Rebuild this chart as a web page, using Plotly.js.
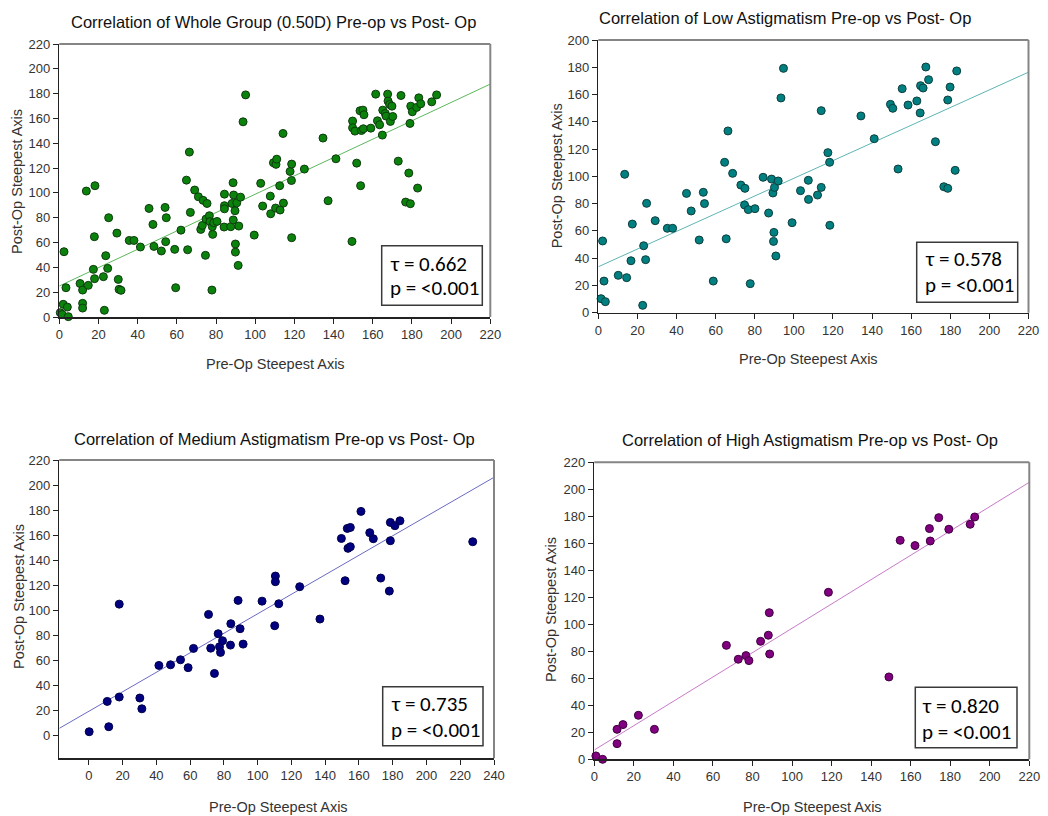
<!DOCTYPE html>
<html>
<head>
<meta charset="utf-8">
<script src="https://cdn.plot.ly/plotly-3.0.1.min.js"></script>
<style>
  html, body { margin: 0; padding: 0; background: #fff; }
  #chart { width: 1048px; height: 816px; }
</style>
</head>
<body>
<div id="chart"></div>
<script>
// ---- Whole group (0.50D): pre-op vs post-op steepest axis (degrees) ----
const wholePre = [
  0.5, 1.5, 2.4, 2, 3.4, 4.1, 4.6, 10.6, 11.9, 11.9,
  11.9, 13.8, 14.8, 17.4, 17.9, 18.2, 18, 22.5, 23, 23.7,
  24.7, 25.2, 29.4, 30.1, 30.5, 31.5, 35.7, 38.1, 41.4, 45.8,
  47.8, 48.3, 52.1, 54, 54.6, 54.3, 58.9, 59.4, 62.1, 64.9,
  65.5, 66.4, 66.9, 69.1, 71, 72.2, 73, 73.4, 74.6, 75.4,
  74.9, 76.6, 76.9, 77.9, 78.3, 78.1, 78.8, 80.5, 84.3, 84.3,
  84.3, 84.1, 87.5, 88.7, 89, 88.2, 89.7, 90.6, 88.8, 89.9,
  89.9, 91.3, 91.6, 92.5, 93.8, 95.1, 99.5, 102.8, 103.8, 107.7,
  107.9, 109.3, 110.6, 111, 110.4, 112.5, 112.7, 114.2, 114.4, 117.8,
  118.5, 118.6, 118.6, 125.1, 134.6, 137.2, 141.2, 149.4, 149.7, 149.7,
  150.9, 151.8, 153.5, 155, 155.5, 154.2, 153.8, 155.2, 159, 161.5,
  162.4, 163.5, 164.9, 165.1, 166.4, 166.8, 167.6, 167.8, 168.6, 169,
  169.8, 170.2, 173, 174.4, 176.8, 178.4, 179.2, 179, 179.4, 180.2,
  182.4, 182.9, 183.5, 184.5, 190.1, 192.6
];
const wholePost = [
  3.5, 2, 52.6, 10.2, 23.6, 8, 0.3, 27, 21.7, 11,
  7.2, 101.5, 25.5, 38.4, 64.7, 105.8, 30.9, 32.5, 5.4, 49.4,
  39.2, 80, 67.6, 30.3, 22.3, 21.5, 61.7, 61.7, 56.4, 87.5,
  74.6, 56.9, 53.2, 88.3, 80, 60.7, 54.5, 23.6, 70, 110.3,
  54.2, 132.9, 84.3, 102.3, 96.9, 70.6, 73.8, 94, 49.7, 91.5,
  78.9, 81.6, 76.8, 21.7, 66.6, 72.8, 76, 77, 99, 89.7,
  87.2, 72.5, 72.8, 108.2, 98.3, 91.5, 85.6, 92, 78.2, 58.8,
  52.3, 41.6, 73.3, 96.6, 157.3, 179, 66, 107.7, 89.4, 97.4,
  83.2, 124.3, 123, 127.2, 87.8, 105.8, 86.2, 147.9, 91.8, 117.3,
  110, 123.2, 63.9, 119.2, 144.2, 93.7, 127.5, 60.9, 157.9, 152.5,
  149.8, 124, 166.2, 166.7, 163, 150.3, 105.8, 151.7, 152.2, 179.6,
  158.1, 154.9, 146.6, 166.7, 164, 161.9, 179.6, 174, 171.3, 157.6,
  169.9, 161.6, 125.6, 178.5, 92.6, 116, 91.3, 156, 169.9, 165.4,
  168.9, 103.9, 176.6, 171.8, 173.4, 179
];
const wholeFitX = [0, 220];
const wholeFitY = [25, 187.7];

// ---- Low astigmatism ----
const lowPre = [
  1.4, 2.2, 2.9, 3.6, 10.2, 13.5, 14.5, 16.7, 17.4, 22.7,
  23.2, 24.2, 24.7, 29.1, 35.3, 38, 45.1, 47.5, 51.6, 53.7,
  54.3, 58.8, 64.6, 65.4, 66.3, 68.7, 72.9, 75, 74.8, 76.7,
  77.7, 80.1, 84.3, 87.1, 88.6, 89.3, 90.1, 89.8, 89.6, 90.8,
  92, 93.4, 94.7, 99.1, 103.4, 107.4, 107.5, 112.1, 114, 114,
  117.4, 118.3, 118.4, 134.3, 141.1, 149.4, 150.6, 153.3, 155.4, 158.4,
  162.9, 164.6, 164.8, 166.1, 167.5, 168.9, 172.4, 176.7, 178.7, 178.7,
  179.9, 182.5, 183.3
];
const lowPost = [
  10.3, 52.6, 23.2, 8.1, 27.4, 101.5, 25.7, 38.1, 65, 5.4,
  49.1, 38.9, 80.2, 67.5, 61.9, 61.9, 87.5, 74.6, 53.3, 88.3,
  80, 23.2, 110.3, 54.2, 133.3, 102.2, 93.6, 91.2, 79, 75.6,
  21.3, 76.3, 99.3, 73.1, 98, 87.8, 91.9, 58.9, 52.3, 41.6,
  96.6, 157.5, 179.2, 66, 89.5, 97.1, 83.1, 86.3, 91.9, 148.2,
  117.4, 110.3, 64.1, 144.3, 127.6, 152.8, 149.9, 105.4, 164.3, 152.3,
  155.3, 146.5, 166.5, 164.8, 180.2, 170.9, 125.4, 92.4, 91.2, 156,
  165.5, 104.4, 177.3
];
const lowFitX = [0, 220];
const lowFitY = [33.7, 176.4];

// ---- Medium astigmatism ----
const medPre = [
  0.2, 10.9, 11.8, 18, 18, 30.2, 31.4, 41.5, 48.4, 54.3,
  58.8, 62, 70.9, 72.2, 74.4, 76.6, 77.4, 78, 79.2, 83.9,
  84.1, 88.4, 89.6, 91.4, 102.6, 110.1, 110.5, 110.5, 112.5, 124.9,
  136.9, 149.6, 151.8, 153.1, 154.9, 153.5, 154.9, 161.2, 166.4, 168.5,
  172.9, 178, 178.6, 178.6, 181.3, 184.3, 227.4
];
const medPost = [
  3.2, 27.4, 7.2, 105, 30.9, 30.1, 21.5, 56.1, 56.6, 60.6,
  54.3, 69.7, 96.8, 69.9, 49.7, 81.4, 71, 66.5, 75.8, 72.3,
  89.4, 108, 85.4, 73.1, 107.4, 87.8, 127.4, 122.9, 105.3, 118.9,
  93.1, 157.4, 123.7, 165.4, 166.2, 149.5, 150.8, 179, 162, 157.2,
  125.8, 115.4, 155.6, 170.2, 167.6, 171.5, 154.8
];
const medFitX = [-17.5, 240];
const medFitY = [5.9, 206.2];

// ---- High astigmatism ----
const highPre = [
  0.8, 4.2, 11.5, 11.5, 14.5, 22.3, 30.4, 66.8, 72.8, 76.7,
  78.2, 84.1, 88, 88.5, 88.7, 118.4, 149, 154.7, 162.2, 169.5,
  169.9, 174.2, 179.3, 190.1, 192.4
];
const highPost = [
  2.5, 0, 22.2, 11.6, 25.7, 32.6, 22.2, 84.4, 74.1, 76.8,
  73.1, 87.4, 91.9, 108.6, 78, 123.7, 61, 162.2, 158.3, 170.9,
  161.7, 179, 170.4, 174.1, 179.5
];
const highFitX = [0, 220];
const highFitY = [6.9, 205.2];

// ---- Labels ----
const panelTitles = [
  'Correlation of Whole Group (0.50D) Pre-op vs Post- Op',
  'Correlation of Low Astigmatism Pre-op vs Post- Op',
  'Correlation of Medium Astigmatism Pre-op vs Post- Op',
  'Correlation of High Astigmatism Pre-op vs Post- Op'
];
const tauValues = ['0.662', '0.578', '0.735', '0.820'];
const pValues = ['<0.001', '<0.001', '<0.001', '<0.001'];
const xTitle = 'Pre-Op Steepest Axis';
const yTitle = 'Post-Op Steepest Axis';

// ---- Page geometry (pixels) ----
const W = 1048, H = 816;
const px = v => v / W;
const py = v => 1 - v / H;

const panels = [
  { xd: [59.3, 490.3], yd: [317, 44],    xr: [0, 220],     yr: [0, 220],
    xt: [0, 220], yt: [0, 220],
    title: [273, 21.5], xlab: [275, 363.5], ylab: [17, 182],
    box: [381.7, 245.7, 482.3, 305.3], txt: [388, 263.5, 287.5] },
  { xd: [598.3, 1028.5], yd: [312.7, 40], xr: [0, 220],    yr: [0, 200],
    xt: [0, 220], yt: [0, 200],
    title: [785, 17.5], xlab: [808, 359], ylab: [557.3, 176],
    box: [916.7, 242.3, 1017.7, 302.3], txt: [923, 259, 285] },
  { xd: [59.3, 494], yd: [758.3, 460],  xr: [-17.5, 240], yr: [-18, 220],
    xt: [0, 240], yt: [0, 220],
    title: [274, 439], xlab: [278, 806.5], ylab: [19, 597],
    box: [382.7, 686.7, 483, 745.7], txt: [389, 704, 729.5] },
  { xd: [594.3, 1029.3], yd: [759.3, 462.3], xr: [0, 220], yr: [0, 220],
    xt: [0, 220], yt: [0, 220],
    title: [810, 440], xlab: [812, 806.5], ylab: [551, 610],
    box: [915.3, 687.3, 1017, 747.7], txt: [920, 706, 731.5] }
];

const series = [
  { pre: wholePre, post: wholePost, fx: wholeFitX, fy: wholeFitY,
    fill: '#0b820b', edge: '#0f3a0f', line: '#5cb85c' },
  { pre: lowPre, post: lowPost, fx: lowFitX, fy: lowFitY,
    fill: '#008080', edge: '#0f3d3d', line: '#5fb5b5' },
  { pre: medPre, post: medPost, fx: medFitX, fy: medFitY,
    fill: '#000080', edge: '#00004a', line: '#6a6ac4' },
  { pre: highPre, post: highPost, fx: highFitX, fy: highFitY,
    fill: '#800080', edge: '#3f003f', line: '#c77ac7' }
];

const sans = 'Liberation Sans, Arial, sans-serif';
const statFont = 'Carlito, Calibri, Lato, Noto Sans, sans-serif';

const range = (a, b, s) => { const r = []; for (let v = a; v <= b + 1e-9; v += s) r.push(v); return r; };

const traces = [];
const layout = {
  width: W, height: H,
  margin: { l: 0, r: 0, t: 0, b: 0 },
  paper_bgcolor: '#ffffff',
  plot_bgcolor: '#ffffff',
  showlegend: false,
  shapes: [],
  annotations: []
};

panels.forEach((p, i) => {
  const n = i === 0 ? '' : String(i + 1);
  const xa = 'x' + n, ya = 'y' + n;
  const s = series[i];

  traces.push({
    x: s.fx, y: s.fy, xaxis: xa, yaxis: ya,
    mode: 'lines', type: 'scatter', hoverinfo: 'skip',
    line: { color: s.line, width: 1 }
  });
  traces.push({
    x: s.pre, y: s.post, xaxis: xa, yaxis: ya,
    mode: 'markers', type: 'scatter', cliponaxis: false,
    marker: { size: 8, color: s.fill, line: { color: s.edge, width: 1 } }
  });

  const axisCommon = {
    showline: true, linecolor: '#222', linewidth: 1.5,
    ticks: 'outside', ticklen: 5, tickwidth: 1, tickcolor: '#222',
    tickfont: { family: sans, size: 13, color: '#333' },
    showgrid: false, zeroline: false, fixedrange: true
  };
  layout['xaxis' + n] = Object.assign({}, axisCommon, {
    domain: [px(p.xd[0]), px(p.xd[1])], range: p.xr, anchor: ya,
    tickvals: range(p.xt[0], p.xt[1], 20)
  });
  layout['yaxis' + n] = Object.assign({}, axisCommon, {
    domain: [py(p.yd[0]), py(p.yd[1])], range: p.yr, anchor: xa,
    tickvals: range(p.yt[0], p.yt[1], 20)
  });

  // grey frame on the top and right sides
  const frame = { color: '#858585', width: 2 };
  layout.shapes.push({ type: 'line', xref: xa + ' domain', yref: ya + ' domain',
    x0: 0, x1: 1, y0: 1, y1: 1, line: frame });
  layout.shapes.push({ type: 'line', xref: xa + ' domain', yref: ya + ' domain',
    x0: 1, x1: 1, y0: 0, y1: 1, line: frame });

  // statistics box
  layout.shapes.push({ type: 'rect', xref: 'paper', yref: 'paper', layer: 'above',
    x0: px(p.box[0]), x1: px(p.box[2]), y0: py(p.box[3]), y1: py(p.box[1]),
    fillcolor: '#ffffff', line: { color: '#3a3a3a', width: 1.5 } });
  layout.annotations.push({ xref: 'paper', yref: 'paper', showarrow: false,
    x: px(p.txt[0]), y: py(p.txt[1]), xanchor: 'left', yanchor: 'middle',
    text: '\u03c4 = ' + tauValues[i], font: { family: statFont, size: 21, color: '#000' } });
  layout.annotations.push({ xref: 'paper', yref: 'paper', showarrow: false,
    x: px(p.txt[0]), y: py(p.txt[2]), xanchor: 'left', yanchor: 'middle',
    text: 'p = ' + pValues[i].replace('<', '&lt;'), font: { family: statFont, size: 21, color: '#000' } });

  // panel and axis titles
  layout.annotations.push({ xref: 'paper', yref: 'paper', showarrow: false,
    x: px(p.title[0]), y: py(p.title[1]), xanchor: 'center', yanchor: 'middle',
    text: panelTitles[i], font: { family: sans, size: 16.5, color: '#111' } });
  layout.annotations.push({ xref: 'paper', yref: 'paper', showarrow: false,
    x: px(p.xlab[0]), y: py(p.xlab[1]), xanchor: 'center', yanchor: 'middle',
    text: xTitle, font: { family: sans, size: 14.5, color: '#333' } });
  layout.annotations.push({ xref: 'paper', yref: 'paper', showarrow: false,
    x: px(p.ylab[0]), y: py(p.ylab[1]), xanchor: 'center', yanchor: 'middle',
    textangle: -90,
    text: yTitle, font: { family: sans, size: 14.5, color: '#333' } });
});

Plotly.newPlot('chart', traces, layout, { displayModeBar: false, staticPlot: true });
</script>
</body>
</html>
